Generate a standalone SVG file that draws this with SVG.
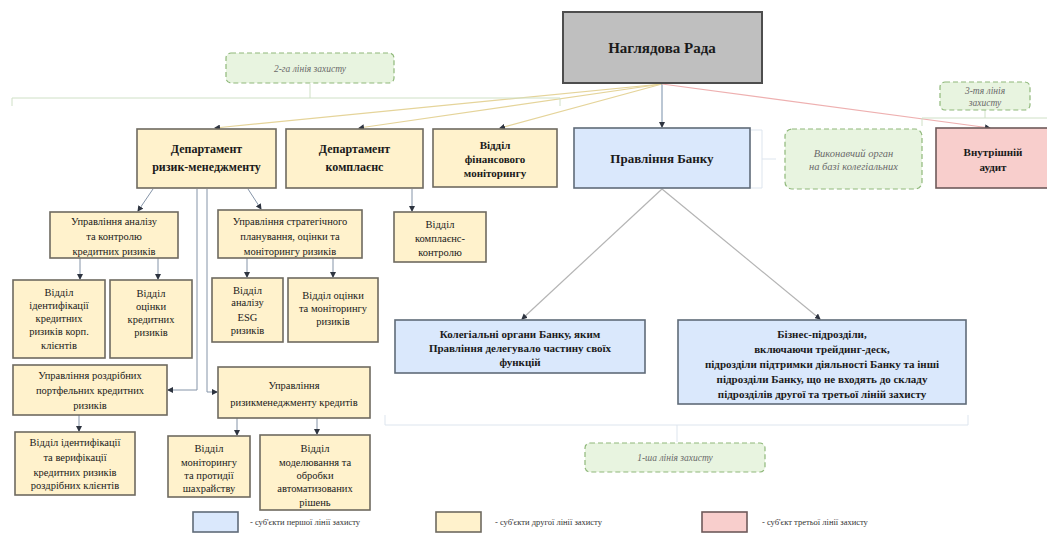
<svg xmlns="http://www.w3.org/2000/svg" width="1047" height="558" viewBox="0 0 1047 558">
<style>
.t{font-family:"Liberation Serif","Times New Roman",serif;fill:#1a1a1a;text-anchor:middle}
.b{font-weight:bold}
.s{font-size:10.5px}
.d{font-size:12px}
.m{font-size:11px}
.i{font-style:italic;fill:#6a6a6a;font-size:9.5px}
.lg{font-size:8.5px;text-anchor:start;fill:#333}
.gray{fill:#bfbfbf;stroke:#4d4d4d;stroke-width:2}
.yel{fill:#fff2cc;stroke:#6e6a60;stroke-width:1.6}
.blue{fill:#dae8fc;stroke:#5f6b78;stroke-width:1.6}
.pink{fill:#f8cecc;stroke:#6e5a5a;stroke-width:1.6}
.grn{fill:#e8f4e0;stroke:#8fb87a;stroke-width:1.2;stroke-dasharray:5 3}
.c{fill:none;stroke:#8594a8;stroke-width:1;marker-end:url(#a)}
.cy{fill:none;stroke:#e5d49a;stroke-width:1.2;marker-end:url(#a)}
.cb{fill:none;stroke:#8ea2b8;stroke-width:1.2;marker-end:url(#a)}
.cp{fill:none;stroke:#eeb0b0;stroke-width:1.2;marker-end:url(#a)}
.cg{fill:none;stroke:#b4b4b4;stroke-width:1.2;marker-end:url(#a)}
.br{fill:none;stroke:#cfe0c6;stroke-width:1}
.brb{fill:none;stroke:#dde5ee;stroke-width:1}
</style>
<defs>
<marker id="a" markerWidth="6" markerHeight="6" refX="5" refY="3" orient="auto" markerUnits="userSpaceOnUse">
<path d="M0,0 L6,3 L0,6 z" fill="#2e3440"/>
</marker>
</defs>
<rect width="1047" height="558" fill="#ffffff"/>

<g id="connectors">
<path class="cy" d="M662,84 L215,128"/>
<path class="cy" d="M662,84 L359,128"/>
<path class="cy" d="M662,84 L500,128"/>
<path class="cb" d="M662,84 L662,127"/>
<path class="cp" d="M662,84 L990,128"/>
<path class="c" d="M153,189 L138,211"/>
<path class="c" d="M248,189 L261,209"/>
<path class="c" d="M197,189 V390 H168"/>
<path class="c" d="M207,189 V392 H217"/>
<path class="c" d="M80,258 V279"/>
<path class="c" d="M158,258 V279"/>
<path class="c" d="M247,258 V277"/>
<path class="c" d="M333,258 V277"/>
<path class="c" d="M412,189 V211"/>
<path class="c" d="M79,415 V431"/>
<path class="c" d="M237,418 V435"/>
<path class="c" d="M317,418 V434"/>
<path class="cg" d="M662,189 L522,319"/>
<path class="cg" d="M662,189 L820,319"/>
<path class="br" d="M310,84 V98 M12,106 V98 H560 V106"/>
<path class="br" d="M985,110 V118 M922,126 V118 H1047"/>
<path class="brb" d="M385,415 V425 H968 V415 M677,425 V442"/>
<path class="brb" d="M751,130 H762 V188 H751 M762,159 H776"/>
</g>

<g id="n-nagl"><rect class="gray" x="563" y="12" width="199" height="71"/><text class="t b" style="font-size:15px" x="662" y="53">Наглядова Рада</text></g>

<g id="n-line2"><rect class="grn" x="226" y="53" width="168" height="30" rx="5"/><text class="t i" x="310" y="72">2-га лінія захисту</text></g>
<g id="n-line3"><rect class="grn" x="940" y="82" width="90" height="28" rx="5"/><text class="t i" x="985" y="94">3-тя лінія</text><text class="t i" x="985" y="106">захисту</text></g>
<g id="n-line1"><rect class="grn" x="585" y="443" width="180" height="29" rx="5"/><text class="t i" x="675" y="461">1-ша лінія захисту</text></g>

<g id="n-drm"><rect class="yel" x="137" y="129" width="139" height="59"/><text class="t b d" x="206.5" y="153">Департамент</text><text class="t b d" x="206.5" y="171">ризик-менеджменту</text></g>
<g id="n-dcomp"><rect class="yel" x="286" y="129" width="137" height="59"/><text class="t b d" x="354.5" y="153">Департамент</text><text class="t b d" x="354.5" y="171">комплаєнс</text></g>
<g id="n-vfm"><rect class="yel" x="433" y="129" width="124" height="58"/><text class="t b m" x="495" y="149">Відділ</text><text class="t b m" x="495" y="163">фінансового</text><text class="t b m" x="495" y="177">моніторингу</text></g>
<g id="n-prav"><rect class="blue" x="574" y="128" width="176" height="60"/><text class="t b" style="font-size:13px" x="662" y="163">Правління Банку</text></g>
<g id="n-vyk"><rect class="grn" x="785" y="129" width="137" height="60" rx="7"/><text class="t i" style="font-size:10.5px" x="853.5" y="157">Виконавчий орган</text><text class="t i" style="font-size:10.5px" x="853.5" y="170">на базі колегіальних</text></g>
<g id="n-audit"><rect class="pink" x="936" y="128" width="114" height="60"/><text class="t b m" x="993" y="156">Внутрішній</text><text class="t b m" x="993" y="171">аудит</text></g>

<g id="n-uakr"><rect class="yel" x="50" y="212" width="128" height="46"/><text class="t s" x="114" y="225">Управління аналізу</text><text class="t s" x="114" y="240">та контролю</text><text class="t s" x="114" y="255">кредитних ризиків</text></g>
<g id="n-uspr"><rect class="yel" x="218" y="210" width="144" height="48"/><text class="t s" x="290" y="225">Управління стратегічного</text><text class="t s" x="290" y="240">планування, оцінки та</text><text class="t s" x="290" y="255">моніторингу ризиків</text></g>
<g id="n-vkk"><rect class="yel" x="394" y="212" width="92" height="50"/><text class="t s" x="440" y="228">Відділ</text><text class="t s" x="440" y="242">комплаєнс-</text><text class="t s" x="440" y="256">контролю</text></g>

<g id="n-vikr"><rect class="yel" x="13" y="280" width="92" height="78"/><text class="t s" x="59" y="296">Відділ</text><text class="t s" x="59" y="309">ідентифікації</text><text class="t s" x="59" y="322">кредитних</text><text class="t s" x="59" y="335">ризиків корп.</text><text class="t s" x="59" y="349">клієнтів</text></g>
<g id="n-vokr"><rect class="yel" x="110" y="280" width="82" height="78"/><text class="t s" x="151" y="297">Відділ</text><text class="t s" x="151" y="310">оцінки</text><text class="t s" x="151" y="323">кредитних</text><text class="t s" x="151" y="336">ризиків</text></g>
<g id="n-vesg"><rect class="yel" x="212" y="278" width="71" height="64"/><text class="t s" x="247.5" y="294">Відділ</text><text class="t s" x="247.5" y="306">аналізу</text><text class="t s" x="247.5" y="321">ESG</text><text class="t s" x="247.5" y="334">ризиків</text></g>
<g id="n-vomr"><rect class="yel" x="288" y="278" width="90" height="64"/><text class="t s" x="333" y="299">Відділ оцінки</text><text class="t s" x="333" y="312">та моніторингу</text><text class="t s" x="333" y="325">ризиків</text></g>

<g id="n-urpk"><rect class="yel" x="13" y="365" width="154" height="50"/><text class="t s" x="90" y="379">Управління роздрібних</text><text class="t s" x="90" y="394">портфельних кредитних</text><text class="t s" x="90" y="409">ризиків</text></g>
<g id="n-urmk"><rect class="yel" x="218" y="367" width="152" height="51"/><text class="t s" x="294" y="389">Управління</text><text class="t s" x="294" y="406">ризикменеджменту кредитів</text></g>

<g id="n-vivr"><rect class="yel" x="15" y="432" width="120" height="63"/><text class="t s" x="75" y="446">Відділ ідентифікації</text><text class="t s" x="75" y="461">та верифікації</text><text class="t s" x="75" y="476">кредитних ризиків</text><text class="t s" x="75" y="489">роздрібних клієнтів</text></g>
<g id="n-vmps"><rect class="yel" x="168" y="436" width="82" height="61"/><text class="t s" x="209" y="452">Відділ</text><text class="t s" x="209" y="466">моніторингу</text><text class="t s" x="209" y="479">та протидії</text><text class="t s" x="209" y="492">шахрайству</text></g>
<g id="n-vmoa"><rect class="yel" x="260" y="435" width="110" height="75"/><text class="t s" x="315" y="452">Відділ</text><text class="t s" x="315" y="466">моделювання та</text><text class="t s" x="315" y="479">обробки</text><text class="t s" x="315" y="492">автоматизованих</text><text class="t s" x="315" y="506">рішень</text></g>

<g id="n-kol"><rect class="blue" x="395" y="320" width="250" height="53"/><text class="t b m" x="520" y="338">Колегіальні органи Банку, яким</text><text class="t b m" x="520" y="352">Правління делегувало частину своїх</text><text class="t b m" x="520" y="366">функцій</text></g>
<g id="n-biz"><rect class="blue" x="678" y="320" width="288" height="84"/><text class="t b m" x="822" y="338">Бізнес-підрозділи,</text><text class="t b m" x="822" y="353">включаючи трейдинг-деск,</text><text class="t b m" x="822" y="368">підрозділи підтримки діяльності Банку та інші</text><text class="t b m" x="822" y="383">підрозділи Банку, що не входять до складу</text><text class="t b m" x="822" y="398">підрозділів другої та третьої ліній захисту</text></g>

<g id="legend">
<rect class="blue" x="193" y="512" width="45" height="20"/><text class="t lg" x="250" y="525">- суб'єкти першої лінії захисту</text>
<rect class="yel" x="436" y="512" width="45" height="20"/><text class="t lg" x="495" y="525">- суб'єкти другої лінії захисту</text>
<rect class="pink" x="702" y="512" width="45" height="20"/><text class="t lg" x="762" y="525">- суб'єкт третьої лінії захисту</text>
</g>
</svg>
